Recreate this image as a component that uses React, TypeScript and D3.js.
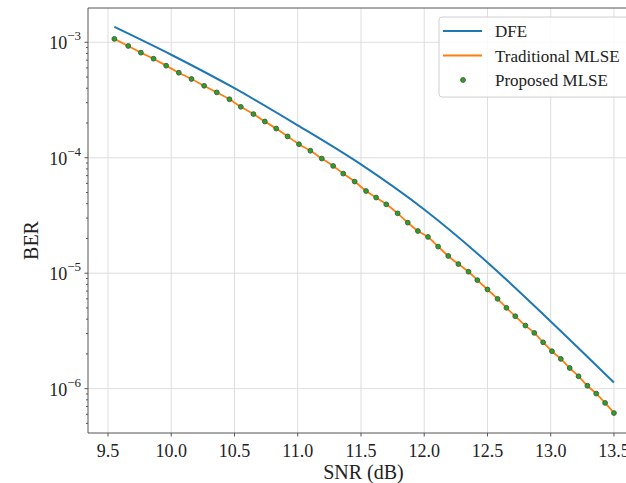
import React from 'react';
import * as d3 from 'd3';

// SNR grid of the simulated MLSE points (dB)
const snrPoints = [
  9.55, 9.66, 9.76, 9.86, 9.96, 10.06, 10.16, 10.26, 10.36, 10.46,
  10.55, 10.65, 10.74, 10.83, 10.92, 11.01, 11.1, 11.19, 11.28, 11.36,
  11.45, 11.54, 11.62, 11.7, 11.79, 11.87, 11.95, 12.03, 12.11, 12.19,
  12.27, 12.35, 12.42, 12.5, 12.58, 12.65, 12.72, 12.8, 12.87, 12.94,
  13.01, 13.08, 13.15, 13.22, 13.29, 13.36, 13.43, 13.5,
];

const traditionalBer = [
  1.07e-3, 9.29e-4, 8.13e-4, 7.21e-4, 6.27e-4, 5.45e-4, 4.81e-4, 4.2e-4, 3.68e-4, 3.21e-4,
  2.76e-4, 2.39e-4, 2.06e-4, 1.79e-4, 1.53e-4, 1.31e-4, 1.15e-4, 9.84e-5, 8.49e-5, 7.29e-5,
  6.22e-5, 5.15e-5, 4.52e-5, 3.95e-5, 3.3e-5, 2.74e-5, 2.32e-5, 2.06e-5, 1.7e-5, 1.41e-5,
  1.2e-5, 1.03e-5, 8.71e-6, 7.23e-6, 6.0e-6, 5.01e-6, 4.24e-6, 3.52e-6, 3.04e-6, 2.52e-6,
  2.11e-6, 1.81e-6, 1.51e-6, 1.28e-6, 1.06e-6, 9.06e-7, 7.52e-7, 6.15e-7,
];

const proposedBer = [
  1.07e-3, 9.29e-4, 8.13e-4, 7.21e-4, 6.27e-4, 5.45e-4, 4.81e-4, 4.2e-4, 3.68e-4, 3.21e-4,
  2.76e-4, 2.39e-4, 2.06e-4, 1.79e-4, 1.53e-4, 1.31e-4, 1.15e-4, 9.84e-5, 8.49e-5, 7.29e-5,
  6.22e-5, 5.15e-5, 4.52e-5, 3.95e-5, 3.3e-5, 2.74e-5, 2.32e-5, 2.06e-5, 1.7e-5, 1.41e-5,
  1.2e-5, 1.03e-5, 8.71e-6, 7.23e-6, 6.0e-6, 5.01e-6, 4.24e-6, 3.52e-6, 3.04e-6, 2.52e-6,
  2.11e-6, 1.81e-6, 1.51e-6, 1.28e-6, 1.06e-6, 9.06e-7, 7.52e-7, 6.15e-7,
];

// DFE curve
const dfeSnr = [9.55, 10.0, 10.5, 11.0, 11.5, 12.0, 12.5, 13.0, 13.5];
const dfeBer = [1.36e-3, 7.8e-4, 4.0e-4, 1.91e-4, 8.75e-5, 3.56e-5, 1.24e-5, 3.82e-6, 1.13e-6];

const xTicks = [9.5, 10.0, 10.5, 11.0, 11.5, 12.0, 12.5, 13.0, 13.5];
const yExponents = [-3, -4, -5, -6];

const legendItems = [
  { label: 'DFE', color: '#1f77b4', kind: 'line' },
  { label: 'Traditional MLSE', color: '#ff7f0e', kind: 'line' },
  { label: 'Proposed MLSE', color: '#2ca02c', kind: 'dot' },
];

const width = 626;
const height = 483;
const margin = { top: 8, right: -13, bottom: 50, left: 88 };
const font = "'Liberation Serif', 'Times New Roman', serif";

export default function App() {
  const svgRef = React.useRef<SVGSVGElement | null>(null);

  React.useEffect(() => {
    const svg = d3.select(svgRef.current);
    svg.selectAll('*').remove();

    const x0 = margin.left;
    const x1 = width - margin.right;
    const y0 = height - margin.bottom;
    const y1 = margin.top;

    const xScale = d3.scaleLinear().domain([9.342, 13.698]).range([x0, x1]);
    const yScale = d3
      .scaleLog()
      .domain([Math.pow(10, -6.384), Math.pow(10, -2.703)])
      .range([y0, y1]);

    // grid
    svg
      .append('g')
      .selectAll('line')
      .data(xTicks)
      .enter()
      .append('line')
      .attr('x1', (d) => xScale(d))
      .attr('x2', (d) => xScale(d))
      .attr('y1', y1)
      .attr('y2', y0)
      .attr('stroke', '#dedede')
      .attr('stroke-width', 1);

    svg
      .append('g')
      .selectAll('line')
      .data(yExponents)
      .enter()
      .append('line')
      .attr('x1', x0)
      .attr('x2', x1)
      .attr('y1', (d) => yScale(Math.pow(10, d)))
      .attr('y2', (d) => yScale(Math.pow(10, d)))
      .attr('stroke', '#dedede')
      .attr('stroke-width', 1);

    // curves
    const line = d3
      .line<[number, number]>()
      .x((d) => xScale(d[0]))
      .y((d) => yScale(d[1]))
      .curve(d3.curveMonotoneX);

    svg
      .append('path')
      .datum(dfeSnr.map((s, i) => [s, dfeBer[i]] as [number, number]))
      .attr('d', line)
      .attr('fill', 'none')
      .attr('stroke', '#1f77b4')
      .attr('stroke-width', 2);

    svg
      .append('path')
      .datum(snrPoints.map((s, i) => [s, traditionalBer[i]] as [number, number]))
      .attr('d', line)
      .attr('fill', 'none')
      .attr('stroke', '#ff7f0e')
      .attr('stroke-width', 1.8);

    svg
      .append('g')
      .selectAll('circle')
      .data(snrPoints.map((s, i) => [s, proposedBer[i]]))
      .enter()
      .append('circle')
      .attr('cx', (d) => xScale(d[0]))
      .attr('cy', (d) => yScale(d[1]))
      .attr('r', 2.4)
      .attr('fill', '#2ca02c')
      .attr('stroke', '#3d5c35')
      .attr('stroke-width', 0.9);

    // spines
    const spine = '#555';
    svg.append('line').attr('x1', x0).attr('x2', x0).attr('y1', y1).attr('y2', y0).attr('stroke', spine);
    svg.append('line').attr('x1', x0).attr('x2', x1).attr('y1', y0).attr('y2', y0).attr('stroke', spine);
    svg.append('line').attr('x1', x0).attr('x2', x1).attr('y1', y1).attr('y2', y1).attr('stroke', spine);

    // x ticks
    const xg = svg.append('g');
    xTicks.forEach((t) => {
      xg.append('line')
        .attr('x1', xScale(t))
        .attr('x2', xScale(t))
        .attr('y1', y0)
        .attr('y2', y0 + 3.5)
        .attr('stroke', spine);
      xg.append('text')
        .attr('x', xScale(t))
        .attr('y', y0 + 24)
        .attr('text-anchor', 'middle')
        .attr('font-family', font)
        .attr('font-size', 18)
        .attr('fill', '#222')
        .text(t.toFixed(1));
    });

    // y ticks, major + minor
    const yg = svg.append('g');
    const [dMin, dMax] = yScale.domain();
    for (let e = -7; e <= -2; e++) {
      for (let m = 1; m <= 9; m++) {
        const v = m * Math.pow(10, e);
        if (v < dMin || v > dMax) continue;
        yg.append('line')
          .attr('x1', x0)
          .attr('x2', x0 - (m === 1 ? 3.5 : 2))
          .attr('y1', yScale(v))
          .attr('y2', yScale(v))
          .attr('stroke', spine);
      }
    }
    yExponents.forEach((e) => {
      const t = yg
        .append('text')
        .attr('x', x0 - 7)
        .attr('y', yScale(Math.pow(10, e)) + 7)
        .attr('text-anchor', 'end')
        .attr('font-family', font)
        .attr('fill', '#222');
      t.append('tspan').attr('font-size', 18).text('10');
      t.append('tspan').attr('font-size', 13).attr('dy', -9).text('\u2212' + Math.abs(e));
    });

    // axis labels
    svg
      .append('text')
      .attr('x', (x0 + x1) / 2)
      .attr('y', 479)
      .attr('text-anchor', 'middle')
      .attr('font-family', font)
      .attr('font-size', 20)
      .attr('fill', '#222')
      .text('SNR (dB)');

    svg
      .append('text')
      .attr('transform', `translate(38, ${(y0 + y1) / 2 + 20}) rotate(-90)`)
      .attr('text-anchor', 'middle')
      .attr('font-family', font)
      .attr('font-size', 20)
      .attr('fill', '#222')
      .text('BER');

    // legend
    const lg = svg.append('g');
    lg.append('rect')
      .attr('x', 439)
      .attr('y', 17)
      .attr('width', 192)
      .attr('height', 80)
      .attr('rx', 3)
      .attr('fill', 'white')
      .attr('fill-opacity', 0.85)
      .attr('stroke', '#d0d0d0');

    legendItems.forEach((item, i) => {
      const cy = 31 + i * 24.5;
      if (item.kind === 'line') {
        lg.append('line')
          .attr('x1', 443)
          .attr('x2', 482)
          .attr('y1', cy)
          .attr('y2', cy)
          .attr('stroke', item.color)
          .attr('stroke-width', 2);
      } else {
        lg.append('circle')
          .attr('cx', 463)
          .attr('cy', cy)
          .attr('r', 2.4)
          .attr('fill', item.color)
          .attr('stroke', '#3d5c35')
          .attr('stroke-width', 0.9);
      }
      lg.append('text')
        .attr('x', 495)
        .attr('y', cy + 6)
        .attr('font-family', font)
        .attr('font-size', 17)
        .attr('fill', '#222')
        .text(item.label);
    });
  }, []);

  return (
    <svg
      ref={svgRef}
      width={width}
      height={height}
      style={{ position: 'absolute', left: 0, top: 0, background: 'white' }}
    ></svg>
  );
}
